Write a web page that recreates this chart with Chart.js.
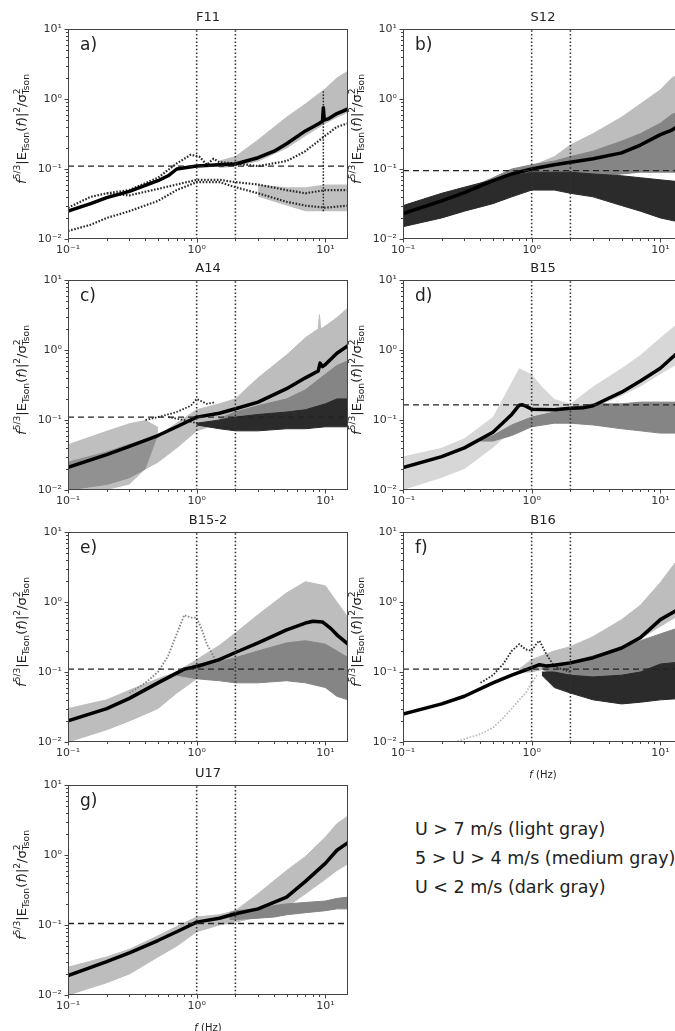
<!DOCTYPE html>
<html>
<head>
<meta charset="utf-8">
<script src="https://cdn.jsdelivr.net/npm/chart.js@4.4.1/dist/chart.umd.min.js"></script>
<style>
  html, body { margin: 0; padding: 0; background: #fff; }
  body { position: relative; width: 675px; height: 1031px; overflow: hidden; }
  canvas { position: absolute; }
  .legend { position: absolute; left: 415px; font: 17.5px "DejaVu Sans", sans-serif; color: #222; line-height: 20px; white-space: nowrap; }
</style>
</head>
<body>
<div class="legend" style="top:819px">U &gt; 7 m/s (light gray)</div>
<div class="legend" style="top:848px">5 &gt; U &gt; 4 m/s (medium gray)</div>
<div class="legend" style="top:877px">U &lt; 2 m/s (dark gray)</div>
<script>
// --- panel labels / reference lines ---
const PANEL_TITLES = ['F11', 'S12', 'A14', 'B15', 'B15-2', 'B16', 'U17'];
const PANEL_LETTERS = ['a)', 'b)', 'c)', 'd)', 'e)', 'f)', 'g)'];
const REF_LEVELS = [0.11, 0.095, 0.11, 0.165, 0.11, 0.11, 0.105];
const GUIDE_FREQS = [1, 2];
const X_MAJOR = [0.1, 1, 10];
const Y_MAJOR = [0.01, 0.1, 1, 10];
const X_RANGE = [0.1, 15];
const Y_RANGE = [0.01, 10];

// colours
const LIGHT = '#bdbdbd';
const LIGHT_SPARSE = 'rgba(189,189,189,0.6)';
const MED = '#858585';
const DARK = '#2b2b2b';
const DARK_SPARSE = 'rgba(43,43,43,0.3)';

// --- a) F11 ---
const aMeanF = [0.1, 0.15, 0.2, 0.3, 0.5, 0.6, 0.7, 1, 1.5, 2, 3, 4, 5, 7, 9, 9.5, 9.65, 9.8, 10.5, 12.3, 15];
const aMeanV = [0.025, 0.032, 0.039, 0.048, 0.068, 0.08, 0.1, 0.11, 0.115, 0.118, 0.145, 0.18, 0.23, 0.35, 0.45, 0.48, 0.75, 0.5, 0.52, 0.62, 0.72];
const aLightF = [1.5, 2, 3, 5, 7, 10, 12.3, 15];
const aLightLo = [0.105, 0.11, 0.13, 0.2, 0.3, 0.45, 0.55, 0.65];
const aLightHi = [0.13, 0.15, 0.26, 0.55, 0.85, 1.4, 2.0, 2.5];
const aDarkF = [3, 5, 7, 10, 15];
const aDarkLo = [0.04, 0.03, 0.025, 0.025, 0.025];
const aDarkHi = [0.06, 0.055, 0.055, 0.06, 0.06];
const aTr1F = [0.1, 0.15, 0.2, 0.3, 0.5, 0.7, 0.9, 1.05, 1.2, 1.35, 1.5, 2, 3, 5, 7, 10, 12.3, 15];
const aTr1V = [0.028, 0.04, 0.045, 0.05, 0.075, 0.12, 0.16, 0.15, 0.115, 0.14, 0.125, 0.12, 0.11, 0.13, 0.18, 0.3, 0.4, 0.45];
const aTr2F = [0.1, 0.15, 0.2, 0.3, 0.5, 0.7, 1, 1.5, 2, 3, 5, 7, 10, 15];
const aTr2V = [0.013, 0.016, 0.02, 0.025, 0.035, 0.05, 0.065, 0.065, 0.055, 0.045, 0.034, 0.03, 0.028, 0.03];
const aTr3F = [0.2, 0.3, 0.5, 0.7, 1, 1.5, 2, 3, 5, 7, 10, 15];
const aTr3V = [0.045, 0.042, 0.052, 0.06, 0.07, 0.07, 0.065, 0.06, 0.05, 0.045, 0.05, 0.05];
const aSpikeF = [9.65, 9.65];
const aSpikeV = [0.025, 1.3];

// --- b) S12 ---
const bMeanF = [0.1, 0.2, 0.3, 0.5, 0.7, 1, 1.5, 2, 3, 5, 7, 10, 12.3, 15];
const bMeanV = [0.023, 0.035, 0.046, 0.068, 0.085, 0.1, 0.115, 0.125, 0.14, 0.17, 0.22, 0.31, 0.36, 0.45];
const bLightF = [1, 1.5, 2, 3, 5, 7, 10, 12.3, 15];
const bLightLo = [0.1, 0.12, 0.14, 0.17, 0.22, 0.3, 0.4, 0.5, 0.55];
const bLightHi = [0.11, 0.15, 0.22, 0.32, 0.55, 0.85, 1.35, 2.0, 2.4];
const bMedF = [0.2, 0.3, 0.5, 0.7, 1, 1.5, 2, 3, 5, 7, 10, 12.3, 15];
const bMedLo = [0.035, 0.035, 0.045, 0.055, 0.06, 0.065, 0.07, 0.075, 0.085, 0.09, 0.09, 0.09, 0.09];
const bMedHi = [0.036, 0.05, 0.075, 0.1, 0.115, 0.13, 0.15, 0.18, 0.25, 0.32, 0.45, 0.6, 0.7];
const bDarkF = [0.1, 0.2, 0.3, 0.5, 0.7, 1, 1.5, 2, 3, 5, 7, 10, 15];
const bDarkLo = [0.015, 0.02, 0.025, 0.032, 0.04, 0.05, 0.05, 0.045, 0.04, 0.03, 0.025, 0.02, 0.017];
const bDarkHi = [0.03, 0.045, 0.055, 0.07, 0.08, 0.09, 0.09, 0.09, 0.085, 0.08, 0.075, 0.07, 0.065];

// --- c) A14 ---
const cMeanF = [0.1, 0.2, 0.3, 0.5, 0.7, 1, 1.5, 2, 3, 5, 7, 8.8, 9.1, 9.5, 10, 12.3, 15];
const cMeanV = [0.021, 0.032, 0.042, 0.06, 0.08, 0.11, 0.125, 0.145, 0.18, 0.28, 0.4, 0.5, 0.65, 0.58, 0.62, 0.9, 1.15];
const cLightF = [0.1, 0.2, 0.3, 0.5, 0.7, 1, 1.5, 2, 3, 5, 7, 8.8, 9, 9.2, 10, 12.3, 15];
const cLightLo = [0.01, 0.012, 0.015, 0.025, 0.04, 0.07, 0.09, 0.1, 0.11, 0.12, 0.13, 0.13, 0.13, 0.13, 0.14, 0.15, 0.15];
const cLightHi = [0.025, 0.035, 0.045, 0.06, 0.09, 0.14, 0.17, 0.2, 0.4, 0.85, 1.5, 2.0, 3.2, 2.0, 2.2, 2.9, 4.0];
const cMedF = [1.5, 2, 3, 5, 7, 10, 12.3, 15];
const cMedLo = [0.1, 0.085, 0.085, 0.09, 0.1, 0.1, 0.1, 0.1];
const cMedHi = [0.105, 0.13, 0.16, 0.2, 0.27, 0.45, 0.6, 0.7];
const cDarkF = [1, 1.5, 2, 3, 5, 7, 10, 12.3, 15];
const cDarkLo = [0.085, 0.075, 0.07, 0.07, 0.075, 0.075, 0.08, 0.08, 0.08];
const cDarkHi = [0.09, 0.1, 0.11, 0.12, 0.13, 0.14, 0.17, 0.2, 0.2];
const cDarkLowF = [0.1, 0.2, 0.3, 0.4, 0.5];
const cDarkLowLo = [0.01, 0.01, 0.012, 0.02, 0.06];
const cDarkLowHi = [0.045, 0.07, 0.09, 0.1, 0.08];
const cTr1F = [0.4, 0.5, 0.7, 0.9, 1, 1.2, 1.4];
const cTr1V = [0.1, 0.11, 0.13, 0.16, 0.2, 0.17, 0.18];
const cTr2F = [0.6, 0.8, 1, 1.5, 2, 2.5];
const cTr2V = [0.11, 0.1, 0.09, 0.08, 0.075, 0.08];

// --- d) B15 ---
const dMeanF = [0.1, 0.2, 0.3, 0.5, 0.7, 0.8, 0.85, 0.95, 1, 1.5, 2, 2.5, 3, 5, 7, 10, 13, 15];
const dMeanV = [0.021, 0.03, 0.04, 0.067, 0.12, 0.163, 0.165, 0.15, 0.143, 0.14, 0.147, 0.15, 0.16, 0.25, 0.36, 0.55, 0.85, 1.0];
const dLightF = [0.1, 0.2, 0.3, 0.5, 0.7, 0.8, 1, 1.2, 1.5, 2, 3, 5, 7, 10, 15];
const dLightLo = [0.01, 0.015, 0.02, 0.04, 0.07, 0.09, 0.1, 0.11, 0.12, 0.13, 0.15, 0.22, 0.3, 0.45, 0.7];
const dLightHi = [0.03, 0.04, 0.055, 0.11, 0.35, 0.55, 0.45, 0.3, 0.2, 0.17, 0.3, 0.55, 0.85, 1.5, 2.8];
const dMedF = [0.4, 0.5, 0.7, 1, 1.5, 2, 3, 5, 7, 10, 15];
const dMedLo = [0.05, 0.05, 0.06, 0.08, 0.09, 0.09, 0.085, 0.075, 0.07, 0.065, 0.065];
const dMedHi = [0.051, 0.06, 0.085, 0.11, 0.13, 0.15, 0.17, 0.17, 0.18, 0.18, 0.18];

// --- e) B15-2 ---
const eMeanF = [0.1, 0.2, 0.3, 0.5, 0.8, 1, 1.5, 2, 3, 5, 7, 8, 9.5, 11, 12.3, 15];
const eMeanV = [0.02, 0.03, 0.042, 0.07, 0.11, 0.12, 0.15, 0.19, 0.26, 0.4, 0.5, 0.53, 0.52, 0.42, 0.34, 0.25];
const eLightF = [0.1, 0.2, 0.3, 0.5, 0.7, 1, 1.5, 2, 3, 5, 7, 10, 12.3, 15];
const eLightLo = [0.01, 0.015, 0.02, 0.03, 0.05, 0.08, 0.1, 0.11, 0.13, 0.18, 0.2, 0.18, 0.12, 0.1];
const eLightHi = [0.03, 0.04, 0.055, 0.08, 0.1, 0.15, 0.24, 0.36, 0.66, 1.35, 1.95, 1.7, 1.0, 0.6];
const eMedF = [0.7, 1, 1.5, 2, 3, 5, 7, 10, 12.3, 15];
const eMedLo = [0.09, 0.08, 0.075, 0.07, 0.07, 0.075, 0.07, 0.06, 0.045, 0.04];
const eMedHi = [0.095, 0.13, 0.14, 0.16, 0.2, 0.26, 0.28, 0.25, 0.2, 0.16];
const eTrF = [0.3, 0.4, 0.5, 0.6, 0.7, 0.8, 0.9, 1, 1.1, 1.2, 1.4, 1.6, 2];
const eTrV = [0.05, 0.07, 0.1, 0.17, 0.35, 0.65, 0.6, 0.6, 0.4, 0.25, 0.15, 0.13, 0.12];

// --- f) B16 ---
const fMeanF = [0.1, 0.2, 0.3, 0.5, 0.7, 1, 1.15, 1.3, 1.5, 2, 3, 5, 7, 10, 13, 15];
const fMeanV = [0.025, 0.035, 0.045, 0.07, 0.09, 0.115, 0.127, 0.122, 0.125, 0.135, 0.16, 0.22, 0.31, 0.56, 0.74, 0.9];
const fLightF = [0.8, 1, 1.5, 2, 3, 5, 7, 10, 13, 15];
const fLightLo = [0.1, 0.1, 0.12, 0.13, 0.16, 0.22, 0.3, 0.45, 0.6, 0.7];
const fLightHi = [0.11, 0.15, 0.2, 0.23, 0.32, 0.56, 0.9, 1.9, 3.6, 4.5];
const fMedF = [1.2, 1.5, 2, 3, 5, 7, 10, 15];
const fMedLo = [0.11, 0.09, 0.085, 0.08, 0.08, 0.085, 0.1, 0.1];
const fMedHi = [0.115, 0.13, 0.14, 0.17, 0.22, 0.28, 0.35, 0.45];
const fDarkF = [1.2, 1.5, 2, 3, 5, 7, 10, 15];
const fDarkLo = [0.09, 0.06, 0.05, 0.04, 0.035, 0.037, 0.04, 0.042];
const fDarkHi = [0.1, 0.1, 0.09, 0.085, 0.09, 0.1, 0.13, 0.14];
const fTrLightF = [0.25, 0.3, 0.4, 0.5, 0.6, 0.7, 0.8, 0.9, 1, 1.1];
const fTrLightV = [0.01, 0.011, 0.013, 0.016, 0.022, 0.03, 0.04, 0.05, 0.07, 0.09];
const fTrDarkF = [0.4, 0.5, 0.6, 0.7, 0.8, 0.9, 1, 1.1, 1.15, 1.2, 1.3, 1.5, 2];
const fTrDarkV = [0.07, 0.09, 0.13, 0.2, 0.25, 0.21, 0.2, 0.26, 0.28, 0.24, 0.18, 0.12, 0.1];

// --- g) U17 ---
const gMeanF = [0.1, 0.2, 0.3, 0.5, 0.7, 0.9, 1, 1.5, 2, 3, 5, 7, 10, 12.3, 15];
const gMeanV = [0.019, 0.03, 0.04, 0.06, 0.08, 0.1, 0.11, 0.125, 0.145, 0.17, 0.25, 0.42, 0.76, 1.17, 1.5];
const gLightF = [0.1, 0.2, 0.3, 0.5, 0.7, 1, 1.5, 2, 3, 5, 7, 10, 12.3, 15];
const gLightLo = [0.01, 0.015, 0.02, 0.035, 0.05, 0.08, 0.1, 0.11, 0.13, 0.18, 0.28, 0.45, 0.6, 0.75];
const gLightHi = [0.025, 0.035, 0.045, 0.07, 0.095, 0.13, 0.14, 0.16, 0.28, 0.6, 0.95, 1.8, 2.8, 3.6];
const gMedF = [1.8, 2, 3, 4, 5, 7, 10, 12.3, 15];
const gMedLo = [0.12, 0.12, 0.125, 0.13, 0.14, 0.15, 0.16, 0.17, 0.17];
const gMedHi = [0.15, 0.16, 0.17, 0.19, 0.2, 0.21, 0.22, 0.24, 0.25];

// band = [freqs, lower, upper, colour]; trace = [freqs, values, colour, width]
const PANELS = [
  { mean: [aMeanF, aMeanV],
    bands: [[aLightF, aLightLo, aLightHi, LIGHT], [aDarkF, aDarkLo, aDarkHi, DARK_SPARSE]],
    traces: [[aTr1F, aTr1V, DARK, 2.2], [aTr2F, aTr2V, DARK, 2.2], [aTr3F, aTr3V, DARK, 2.2], [aSpikeF, aSpikeV, DARK, 1.5]] },
  { mean: [bMeanF, bMeanV],
    bands: [[bLightF, bLightLo, bLightHi, LIGHT], [bMedF, bMedLo, bMedHi, MED], [bDarkF, bDarkLo, bDarkHi, DARK]],
    traces: [] },
  { mean: [cMeanF, cMeanV],
    bands: [[cLightF, cLightLo, cLightHi, LIGHT], [cMedF, cMedLo, cMedHi, MED], [cDarkF, cDarkLo, cDarkHi, DARK], [cDarkLowF, cDarkLowLo, cDarkLowHi, DARK_SPARSE]],
    traces: [[cTr1F, cTr1V, DARK, 1.8], [cTr2F, cTr2V, DARK, 1.8]] },
  { mean: [dMeanF, dMeanV],
    bands: [[dLightF, dLightLo, dLightHi, LIGHT_SPARSE], [dMedF, dMedLo, dMedHi, MED]],
    traces: [] },
  { mean: [eMeanF, eMeanV],
    bands: [[eLightF, eLightLo, eLightHi, LIGHT], [eMedF, eMedLo, eMedHi, MED]],
    traces: [[eTrF, eTrV, MED, 1.8]] },
  { mean: [fMeanF, fMeanV],
    bands: [[fLightF, fLightLo, fLightHi, LIGHT], [fMedF, fMedLo, fMedHi, MED], [fDarkF, fDarkLo, fDarkHi, DARK]],
    traces: [[fTrLightF, fTrLightV, LIGHT, 1.8], [fTrDarkF, fTrDarkV, DARK, 1.8]] },
  { mean: [gMeanF, gMeanV],
    bands: [[gLightF, gLightLo, gLightHi, LIGHT], [gMedF, gMedLo, gMedHi, MED]],
    traces: [] }
];

// --- layout (pixels) ---
const COLS = [
  { L: 0, W: 360, axisW: 68, padR: 12, ylabX: 21 },
  { L: 340, W: 360, axisW: 63, padR: 17, ylabX: 16 }
];
const ROW_TOPS = [29, 280, 532, 785];
const AREA_H = 210;
const FONT = '"DejaVu Sans", sans-serif';

function logTicks(lo, hi) {
  const out = [];
  for (let e = Math.floor(Math.log10(lo)); e <= Math.ceil(Math.log10(hi)); e++) {
    for (let k = 1; k <= 9; k++) {
      const v = +(k * Math.pow(10, e)).toPrecision(6);
      if (v >= lo - 1e-9 && v <= hi + 1e-9) out.push(v);
    }
  }
  return out;
}
const X_TICKS = logTicks(X_RANGE[0], X_RANGE[1]);
const Y_TICKS = logTicks(Y_RANGE[0], Y_RANGE[1]);

const SUP = { '-': '⁻', '0': '⁰', '1': '¹', '2': '²', '3': '³' };
function powLabel(v) {
  const e = String(Math.round(Math.log10(v)));
  return '10' + e.split('').map(c => SUP[c]).join('');
}
const isMajor = (v, list) => list.some(m => Math.abs(m - v) < 1e-9);
const pts = (f, v) => f.map((x, i) => ({ x: x, y: v[i] }));

// y-axis label with super/subscripts, drawn rotated
const YLABEL = [
  { t: 'f', it: true }, { t: '5/3', sup: true }, { t: '|E' }, { t: 'Tson', sub: true },
  { t: '(' }, { t: 'f', it: true }, { t: ')|' }, { t: '2', sup: true }, { t: '/σ' },
  { t: '2', sup: true, stack: 'Tson' }
];
function drawYLabel(ctx, cx, cy, targetLen) {
  const seg = (s, base) => {
    const size = (s.sup || s.sub) ? base * 0.7 : base;
    return (s.it ? 'italic ' : '') + size + 'px ' + FONT;
  };
  const measure = base => YLABEL.reduce((w, s) => {
    ctx.font = seg(s, base);
    let sw = ctx.measureText(s.t).width;
    if (s.stack) sw = Math.max(sw, ctx.measureText(s.stack).width);
    return w + sw;
  }, 0);
  let base = 10;
  base = base * targetLen / measure(base);
  const total = measure(base);
  ctx.save();
  ctx.translate(cx, cy);
  ctx.rotate(-Math.PI / 2);
  ctx.fillStyle = '#222';
  ctx.textBaseline = 'alphabetic';
  let x = -total / 2;
  const y0 = base * 0.35;
  YLABEL.forEach(s => {
    ctx.font = seg(s, base);
    const dy = s.sup ? -base * 0.42 : s.sub ? base * 0.25 : 0;
    ctx.fillText(s.t, x, y0 + dy);
    let sw = ctx.measureText(s.t).width;
    if (s.stack) {
      ctx.fillText(s.stack, x, y0 + base * 0.25);
      sw = Math.max(sw, ctx.measureText(s.stack).width);
    }
    x += sw;
  });
  ctx.restore();
}

const decor = {
  id: 'decor',
  afterDraw(chart, args, opts) {
    const { ctx, chartArea: a, scales } = chart;
    ctx.save();
    // axis frame
    ctx.strokeStyle = '#444';
    ctx.lineWidth = 1;
    ctx.strokeRect(Math.round(a.left) + 0.5, Math.round(a.top) + 0.5, Math.round(a.width) - 1, Math.round(a.height) - 1);
    // outward tick marks, long for decades, short for minors
    ctx.beginPath();
    X_TICKS.forEach(v => {
      const px = Math.round(scales.x.getPixelForValue(v)) + 0.5;
      if (px < a.left - 1 || px > a.right + 1) return;
      const len = isMajor(v, X_MAJOR) ? 3.5 : 2;
      ctx.moveTo(px, a.bottom);
      ctx.lineTo(px, a.bottom + len);
    });
    Y_TICKS.forEach(v => {
      const py = Math.round(scales.y.getPixelForValue(v)) + 0.5;
      const len = isMajor(v, Y_MAJOR) ? 3.5 : 2;
      ctx.moveTo(a.left, py);
      ctx.lineTo(a.left - len, py);
    });
    ctx.stroke();
    // title and panel letter
    ctx.fillStyle = '#222';
    ctx.textAlign = 'center';
    ctx.textBaseline = 'alphabetic';
    ctx.font = '13px ' + FONT;
    ctx.fillText(opts.title, (a.left + a.right) / 2, a.top - 8);
    ctx.textAlign = 'left';
    ctx.font = '17px ' + FONT;
    ctx.fillText(opts.letter, a.left + 12, a.top + 21);
    if (opts.xlabel) {
      ctx.textBaseline = 'middle';
      ctx.font = 'italic 10px ' + FONT;
      const w1 = ctx.measureText('f ').width;
      ctx.font = '10px ' + FONT;
      const w2 = ctx.measureText('(Hz)').width;
      const x0 = (a.left + a.right) / 2 - (w1 + w2) / 2;
      ctx.font = 'italic 10px ' + FONT;
      ctx.fillText('f', x0, a.bottom + 33);
      ctx.font = '10px ' + FONT;
      ctx.fillText('(Hz)', x0 + w1, a.bottom + 33);
    }
    ctx.restore();
    drawYLabel(ctx, opts.ylabX, (a.top + a.bottom) / 2 - 5, 110);
  }
};

function buildPanel(i) {
  const p = PANELS[i];
  const col = i % 2, row = Math.floor(i / 2);
  const geo = COLS[col];
  const top = ROW_TOPS[row];
  const hasXLabel = (i === 5 || i === 6);
  const H = 29 + AREA_H + (hasXLabel ? 45 : 24);

  const cv = document.createElement('canvas');
  cv.width = geo.W;
  cv.height = H;
  cv.style.left = geo.L + 'px';
  cv.style.top = (top - 29) + 'px';
  document.body.appendChild(cv);

  const datasets = [];
  p.bands.forEach(([f, lo, hi, c]) => {
    const bw = c.startsWith('rgba') ? 0 : 1;
    datasets.push({ data: pts(f, lo), borderColor: c, backgroundColor: c, borderWidth: bw, fill: false });
    datasets.push({ data: pts(f, hi), borderColor: c, backgroundColor: c, borderWidth: bw, fill: '-1' });
  });
  p.traces.forEach(([f, v, c, w]) => {
    datasets.push({ data: pts(f, v), borderColor: c, borderWidth: w, borderDash: [1.6, 1.6], fill: false });
  });
  datasets.push({ data: pts(p.mean[0], p.mean[1]), borderColor: '#000', borderWidth: 3.5, borderJoinStyle: 'round', fill: false });
  datasets.push({ data: pts(X_RANGE, [REF_LEVELS[i], REF_LEVELS[i]]), borderColor: '#222', borderWidth: 1.3, borderDash: [6, 4], fill: false });
  GUIDE_FREQS.forEach(g => {
    datasets.push({ data: pts([g, g], Y_RANGE), borderColor: '#333', borderWidth: 1.6, borderDash: [1.5, 2.2], fill: false });
  });
  // Chart.js paints lower 'order' on top: keep the array order as paint order
  datasets.forEach((d, k) => { d.order = datasets.length - k; });

  new Chart(cv, {
    type: 'line',
    data: { datasets: datasets },
    options: {
      responsive: false,
      animation: false,
      events: [],
      layout: { padding: { left: 0, right: geo.padR, top: 29, bottom: H - 29 - AREA_H - 22 } },
      elements: { point: { radius: 0 }, line: { tension: 0 } },
      plugins: {
        legend: { display: false },
        tooltip: { enabled: false },
        decor: { title: PANEL_TITLES[i], letter: PANEL_LETTERS[i], xlabel: hasXLabel, ylabX: geo.ylabX }
      },
      scales: {
        x: {
          type: 'logarithmic', min: X_RANGE[0], max: X_RANGE[1],
          afterBuildTicks: s => { s.ticks = X_TICKS.map(v => ({ value: v })); },
          afterFit: s => { s.height = 22; },
          grid: { display: false, drawTicks: false },
          border: { display: false },
          ticks: {
            autoSkip: false, maxRotation: 0, minRotation: 0, padding: 5,
            color: '#333', font: { family: 'DejaVu Sans', size: 11 },
            callback: v => isMajor(v, X_MAJOR) ? powLabel(v) : ''
          }
        },
        y: {
          type: 'logarithmic', min: Y_RANGE[0], max: Y_RANGE[1],
          afterBuildTicks: s => { s.ticks = Y_TICKS.map(v => ({ value: v })); },
          afterFit: s => { s.width = geo.axisW; },
          grid: { display: false, drawTicks: false },
          border: { display: false },
          ticks: {
            autoSkip: false, padding: 6,
            color: '#333', font: { family: 'DejaVu Sans', size: 11 },
            callback: v => isMajor(v, Y_MAJOR) ? powLabel(v) : ''
          }
        }
      }
    },
    plugins: [decor]
  });
}

PANELS.forEach((p, i) => buildPanel(i));
</script>
</body>
</html>
